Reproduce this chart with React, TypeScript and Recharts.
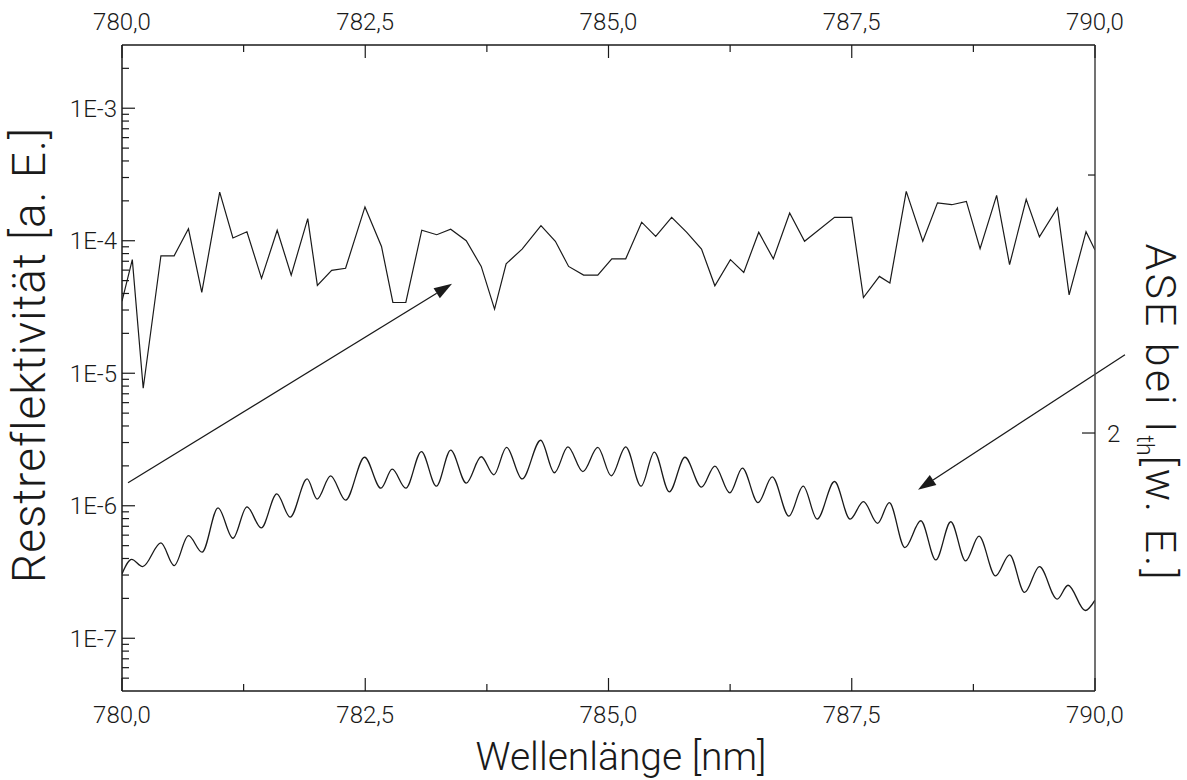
import React from "react";
import { LineChart, Line, XAxis, YAxis, ReferenceLine } from "recharts";

const W = 1187;
const H = 780;
const FONT = "Roboto, 'Liberation Sans', sans-serif";
const INK = "#1a1a1a";

// Restreflektivität der Entspiegelung (linke, logarithmische Achse)
const reflWavelength = [
  780.0, 780.106, 780.218, 780.4, 780.536, 780.683, 780.82, 781.004, 781.14, 781.284,
  781.434, 781.595, 781.739, 781.909, 782.008, 782.155, 782.298, 782.497, 782.667, 782.784,
  782.917, 783.081, 783.235, 783.378, 783.538, 783.692, 783.829, 783.948, 784.112, 784.306,
  784.454, 784.59, 784.744, 784.89, 785.034, 785.177, 785.341, 785.485, 785.649, 785.802,
  785.956, 786.093, 786.253, 786.39, 786.544, 786.694, 786.862, 787.015, 787.323, 787.5,
  787.62, 787.784, 787.892, 788.06, 788.23, 788.381, 788.528, 788.678, 788.819, 788.989,
  789.122, 789.293, 789.429, 789.614, 789.734, 789.908, 790.0,
];
const reflValue = [
  3.5e-5, 7.2e-5, 7.7e-6, 7.7e-5, 7.7e-5, 1.23e-4, 4.07e-5, 2.33e-4, 1.05e-4, 1.17e-4,
  5.2e-5, 1.2e-4, 5.5e-5, 1.47e-4, 4.6e-5, 5.97e-5, 6.2e-5, 1.8e-4, 9.05e-5, 3.42e-5,
  3.42e-5, 1.2e-4, 1.11e-4, 1.22e-4, 1.0e-4, 6.4e-5, 3.05e-5, 6.7e-5, 8.65e-5, 1.3e-4,
  9.9e-5, 6.4e-5, 5.5e-5, 5.5e-5, 7.3e-5, 7.3e-5, 1.38e-4, 1.08e-4, 1.5e-4, 1.16e-4,
  8.65e-5, 4.57e-5, 7.2e-5, 5.77e-5, 1.16e-4, 7.3e-5, 1.62e-4, 9.9e-5, 1.5e-4, 1.5e-4,
  3.73e-5, 5.38e-5, 4.8e-5, 2.36e-4, 9.9e-5, 1.93e-4, 1.87e-4, 1.98e-4, 8.7e-5, 2.2e-4,
  6.6e-5, 2.05e-4, 1.07e-4, 1.77e-4, 3.9e-5, 1.17e-4, 8.5e-5,
];

// ASE-Spektrum bei Schwellstrom (rechte Achse, willk. Einheiten), Maxima und Minima
const aseWavelength = [
  780.0, 780.099, 780.212, 780.4, 780.536, 780.683, 780.823, 780.987, 781.14, 781.284,
  781.431, 781.591, 781.728, 781.903, 782.005, 782.144, 782.298, 782.493, 782.661, 782.777,
  782.917, 783.077, 783.231, 783.378, 783.538, 783.692, 783.822, 783.952, 784.112, 784.303,
  784.444, 784.583, 784.737, 784.89, 785.028, 785.177, 785.335, 785.471, 785.625, 785.786,
  785.956, 786.093, 786.247, 786.376, 786.537, 786.683, 786.854, 787.001, 787.144, 787.323,
  787.483, 787.62, 787.766, 787.886, 788.046, 788.21, 788.364, 788.518, 788.671, 788.808,
  788.978, 789.122, 789.276, 789.429, 789.611, 789.723, 789.9, 790.0,
];
const aseValue = [
  1.727, 1.755, 1.741, 1.787, 1.743, 1.801, 1.769, 1.855, 1.796, 1.857,
  1.816, 1.882, 1.837, 1.911, 1.872, 1.917, 1.87, 1.953, 1.893, 1.93,
  1.893, 1.964, 1.897, 1.967, 1.903, 1.954, 1.919, 1.972, 1.911, 1.986,
  1.923, 1.973, 1.925, 1.972, 1.917, 1.973, 1.897, 1.963, 1.886, 1.953,
  1.895, 1.936, 1.884, 1.932, 1.865, 1.915, 1.839, 1.897, 1.833, 1.906,
  1.833, 1.867, 1.825, 1.865, 1.778, 1.83, 1.754, 1.828, 1.752, 1.8,
  1.723, 1.764, 1.691, 1.741, 1.678, 1.705, 1.656, 1.676,
];

const xTicks = [780, 781.25, 782.5, 783.75, 785, 786.25, 787.5, 788.75, 790];
const xLabelled = [780, 782.5, 785, 787.5, 790];
const decades = [1e-8, 1e-7, 1e-6, 1e-5, 1e-4, 1e-3];
const minorSteps = [2, 3, 4, 5, 6, 7, 8, 9];
const rightTicks = [2, 2.5];
const rightLabelled = [2];

const LOG_DOMAIN: [number, number] = [4e-8, 3e-3];
const RIGHT_DOMAIN: [number, number] = [1.5, 2.752];

const reflData = reflWavelength.map((x, i) => ({ x, r: reflValue[i] }));
const aseData = aseWavelength.map((x, i) => ({ x, a: aseValue[i] }));

const logTicks = decades
  .flatMap((d) => [d, ...minorSteps.map((m) => m * d)])
  .filter((v) => v > LOG_DOMAIN[0] * 1.01 && v < LOG_DOMAIN[1] * 0.99);

const isDecade = (v: number) => decades.some((d) => Math.abs(v / d - 1) < 1e-6);
const fmtX = (v: number) => v.toFixed(1).replace(".", ",");
const fmtLog = (v: number) => `1E${Math.round(Math.log10(v))}`;

const labelStyle = { fontFamily: FONT, fontWeight: 300, fontSize: 24, fill: INK };

const BottomTick = ({ x, y, payload }: any) => {
  const major = xLabelled.includes(payload.value);
  return (
    <g>
      <line x1={x} x2={x} y1={y} y2={y - (major ? 13 : 7)} stroke={INK} strokeWidth={1.2} />
      {major && (
        <text x={x} y={y + 32} textAnchor="middle" style={labelStyle}>
          {fmtX(payload.value)}
        </text>
      )}
    </g>
  );
};

const TopTick = ({ x, y, payload }: any) => {
  const major = xLabelled.includes(payload.value);
  return (
    <g>
      <line x1={x} x2={x} y1={y} y2={y + (major ? 13 : 7)} stroke={INK} strokeWidth={1.2} />
      {major && (
        <text x={x} y={y - 15} textAnchor="middle" style={labelStyle}>
          {fmtX(payload.value)}
        </text>
      )}
    </g>
  );
};

const LeftTick = ({ x, y, payload }: any) => {
  const major = isDecade(payload.value);
  return (
    <g>
      <line x1={x} x2={x + (major ? 13 : 7)} y1={y} y2={y} stroke={INK} strokeWidth={1.2} />
      {major && (
        <text x={x - 5} y={y} dy="0.36em" textAnchor="end" style={labelStyle}>
          {fmtLog(payload.value)}
        </text>
      )}
    </g>
  );
};

const RightTick = ({ x, y, payload }: any) => {
  const major = rightLabelled.includes(payload.value);
  return (
    <g>
      <line x1={x} x2={x - (major ? 13 : 7)} y1={y} y2={y} stroke={INK} strokeWidth={1.2} />
      {major && (
        <text x={x + 12} y={y} dy="0.36em" textAnchor="start" style={labelStyle}>
          {payload.value}
        </text>
      )}
    </g>
  );
};

// line with a filled head at its end point
const arrowShape = (p: any) => {
  const { x1, y1, x2, y2 } = p;
  const ang = Math.atan2(y2 - y1, x2 - x1);
  const len = 18;
  const half = 6;
  const bx = x2 - len * Math.cos(ang);
  const by = y2 - len * Math.sin(ang);
  const nx = -Math.sin(ang) * half;
  const ny = Math.cos(ang) * half;
  return (
    <g>
      <line x1={x1} y1={y1} x2={bx} y2={by} stroke={INK} strokeWidth={1.3} />
      <polygon points={`${x2},${y2} ${bx + nx},${by + ny} ${bx - nx},${by - ny}`} fill={INK} />
    </g>
  );
};

const titleStyle = { fontFamily: FONT, fontWeight: 300, fontSize: 39, fill: INK };
const leftTitleStyle = { ...titleStyle, fontSize: 46 };
const rightTitleStyle = { ...titleStyle, fontSize: 43 };

export default function App() {
  return (
    <div style={{ position: "absolute", left: 0, top: 0, width: W, height: H, background: "#fff" }}>
      <LineChart width={W} height={H} margin={{ top: 0, right: 0, bottom: 0, left: 0 }}>
        <XAxis
          xAxisId="bottom"
          type="number"
          dataKey="x"
          domain={[780, 790]}
          allowDataOverflow
          ticks={xTicks}
          interval={0}
          height={89}
          tickSize={0}
          tickMargin={0}
          tickLine={false}
          tick={(p: any) => <BottomTick {...p} />}
          axisLine={{ stroke: INK, strokeWidth: 1.5 }}
        />
        <XAxis
          xAxisId="top"
          orientation="top"
          type="number"
          dataKey="x"
          domain={[780, 790]}
          allowDataOverflow
          ticks={xTicks}
          interval={0}
          height={45}
          tickSize={0}
          tickMargin={0}
          tickLine={false}
          tick={(p: any) => <TopTick {...p} />}
          axisLine={{ stroke: INK, strokeWidth: 1.5 }}
        />
        <YAxis
          yAxisId="left"
          type="number"
          scale="log"
          domain={LOG_DOMAIN}
          allowDataOverflow
          ticks={logTicks}
          interval={0}
          width={122}
          tickSize={0}
          tickMargin={0}
          tickLine={false}
          tick={(p: any) => <LeftTick {...p} />}
          axisLine={{ stroke: INK, strokeWidth: 1.5 }}
        />
        <YAxis
          yAxisId="right"
          orientation="right"
          type="number"
          domain={RIGHT_DOMAIN}
          allowDataOverflow
          ticks={rightTicks}
          interval={0}
          width={92}
          tickSize={0}
          tickMargin={0}
          tickLine={false}
          tick={(p: any) => <RightTick {...p} />}
          axisLine={{ stroke: "#444", strokeWidth: 1.5 }}
        />
        <Line
          xAxisId="bottom"
          yAxisId="left"
          data={reflData}
          dataKey="r"
          type="linear"
          stroke={INK}
          strokeWidth={1.2}
          dot={false}
          activeDot={false}
          isAnimationActive={false}
        />
        <Line
          xAxisId="bottom"
          yAxisId="right"
          data={aseData}
          dataKey="a"
          type="monotone"
          stroke={INK}
          strokeWidth={1.3}
          dot={false}
          activeDot={false}
          isAnimationActive={false}
        />
        <ReferenceLine
          xAxisId="bottom"
          yAxisId="left"
          ifOverflow="visible"
          segment={[
            { x: 780.062, y: 1.49e-6 },
            { x: 783.392, y: 4.73e-5 },
          ]}
          shape={arrowShape}
        />
        <ReferenceLine
          xAxisId="bottom"
          yAxisId="left"
          ifOverflow="visible"
          segment={[
            { x: 790.308, y: 1.38e-5 },
            { x: 788.181, y: 1.32e-6 },
          ]}
          shape={arrowShape}
        />
      </LineChart>
      <svg
        width={W}
        height={H}
        style={{ position: "absolute", left: 0, top: 0, pointerEvents: "none" }}
      >
        <text x={621} y={770} textAnchor="middle" style={titleStyle}>
          Wellenlänge [nm]
        </text>
        <text
          transform="translate(45 355) rotate(-90)"
          textAnchor="middle"
          letterSpacing={1}
          style={leftTitleStyle}
        >
          Restreflektivität [a. E.]
        </text>
        <text
          transform="translate(1146 413) rotate(90)"
          textAnchor="middle"
          letterSpacing={3}
          style={rightTitleStyle}
        >
          ASE bei I
          <tspan fontSize={23} dy={9} letterSpacing={0}>th</tspan>
          <tspan dy={-9}>[w. E.]</tspan>
        </text>
      </svg>
    </div>
  );
}
